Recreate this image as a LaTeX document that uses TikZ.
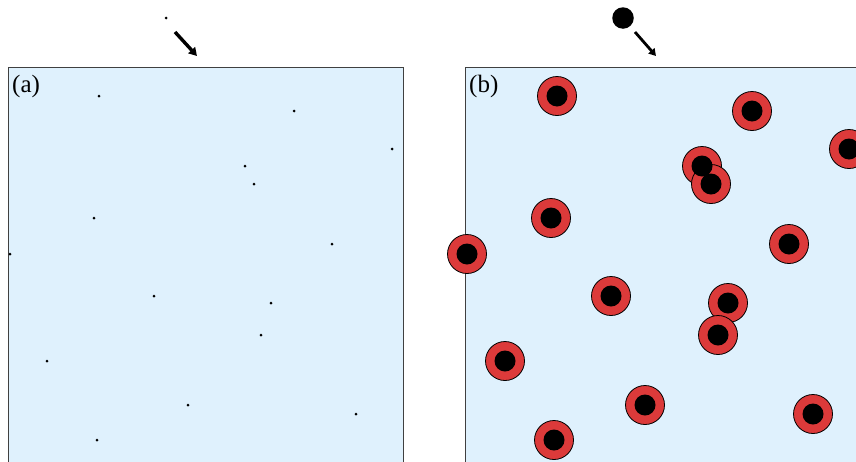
\documentclass[tikz,border=0pt]{standalone}
\usepackage{fontspec}
\setmainfont{Liberation Serif}
\usetikzlibrary{arrows.meta}
\definecolor{panelfill}{HTML}{DFF1FD}
\definecolor{paneledge}{HTML}{404040}
\definecolor{ringred}{HTML}{DC3A3A}
\tikzset{
  panel/.style={draw=paneledge, fill=panelfill, line width=1pt},
  dotmark/.style={fill=black, circle, inner sep=0pt, minimum size=3pt},
  ring/.style={draw=black, fill=ringred, line width=0.8pt},
  core/.style={fill=black},
  dirarrow/.style={-{Triangle[length=8pt,width=9pt]}, line width=3.4pt},
  dirarrowb/.style={-{Triangle[length=7pt,width=8pt]}, line width=2.8pt},
  plabel/.style={anchor=base west, inner sep=0pt, font=\fontsize{25}{25}\selectfont},
}
\begin{document}
\begin{tikzpicture}[x=1pt,y=-1pt]
\useasboundingbox (0,0) rectangle (856,461);
\clip (0,0) rectangle (856,461);
% panels
\path[panel] (8,67) rectangle (403,480);
\path[panel] (465,67) rectangle (860,480);
\node[plabel] (la) at (12,92) {(a)};
\node[plabel] (lb) at (469,92) {(b)};
% incoming particles
\node[dotmark] (pa) at (166,18) {};
\coordinate (a1) at (175,32);
\coordinate (a2) at (197,56);
\draw[dirarrow] (a1) -- (a2);
\node[circle, fill=black, inner sep=0pt, minimum size=21.5pt] (pb) at (623,18) {};
\coordinate (b1) at (635,32);
\coordinate (b2) at (656,56);
\draw[dirarrowb] (b1) -- (b2);
% dots in panel (a)
\foreach \x/\y [count=\i] in {99/96,294/111,392/149,245/166,254/184,94/218,332/244,10/254,154/296,271/303,261/335,47/361,188/405,356/414,97/440}
  \node[dotmark] (d\i) at (\x,\y) {};
% rings in panel (b)
\def\centres{557/96,752/111,849/149,702/166,711/184,551/218,789/244,467/254,611/296,728/303,718/335,505/361,645/405,813/414,554/440}
\foreach \x/\y in \centres
  \path[ring] (\x,\y) circle[radius=19.5];
\foreach \x/\y in \centres
  \path[core] (\x,\y) circle[radius=10.5];
\end{tikzpicture}
\end{document}
